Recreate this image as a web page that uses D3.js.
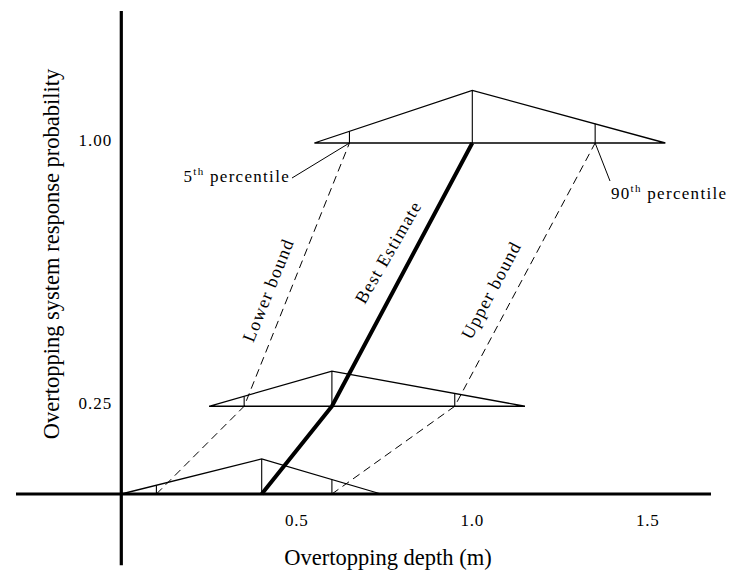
<!DOCTYPE html>
<html>
<head>
<meta charset="utf-8">
<script src="https://cdn.jsdelivr.net/npm/d3@7"></script>
<style>
  html, body { margin: 0; padding: 0; background: #fff; }
  svg { display: block; }
  text { font-family: "Liberation Serif", "Times New Roman", serif; fill: #000; }
</style>
</head>
<body>
<svg id="chart" width="736" height="573"></svg>
<script>
// Response probability levels at which a depth distribution is given
const levels = [0, 0.25, 1.0];
// Triangular distributions of overtopping depth (m) at each level
const depthMin = [0.00, 0.25, 0.55];
const depthMode = [0.40, 0.60, 1.00];
const depthMax = [0.74, 1.15, 1.55];
const depthP05 = [0.10, 0.35, 0.65];
const depthP90 = [0.60, 0.95, 1.35];
// Drawn peak height of each triangle, in probability units
const peakHeight = [0.10, 0.10, 0.15];

// Axis ticks and extents
const xTickValues = [0.5, 1.0, 1.5];
const xTickLabels = ["0.5", "1.0", "1.5"];
const yTickValues = [0.25, 1.0];
const yTickLabels = ["0.25", "1.00"];
const xAxisExtent = [-0.30, 1.68];
const yAxisExtent = [-0.203, 1.376];

const svg = d3.select("#chart");

const x = d3.scaleLinear().domain([0, 1.5]).range([121.3, 647.8]);
const y = d3.scaleLinear().domain([0, 1]).range([494, 143]);

const line = d3.line().x(d => x(d[0])).y(d => y(d[1]));

// Triangular distributions
levels.forEach((p, i) => {
  const g = svg.append("g");
  const tri = [[depthMin[i], p], [depthMode[i], p + peakHeight[i]], [depthMax[i], p], [depthMin[i], p]];
  g.append("path").attr("d", line(tri))
    .attr("fill", "none").attr("stroke", "#000").attr("stroke-width", 1.3)
    .attr("stroke-linejoin", "miter");
  // height of the triangle at a given depth
  const h = v => v <= depthMode[i]
    ? peakHeight[i] * (v - depthMin[i]) / (depthMode[i] - depthMin[i])
    : peakHeight[i] * (depthMax[i] - v) / (depthMax[i] - depthMode[i]);
  [depthP05[i], depthMode[i], depthP90[i]].forEach(v => {
    g.append("path").attr("d", line([[v, p], [v, p + h(v)]]))
      .attr("stroke", "#000").attr("stroke-width", 1.1);
  });
});

// Bound curves through the percentiles
const lowerBound = levels.map((p, i) => [depthP05[i], p]);
const upperBound = levels.map((p, i) => [depthP90[i], p]);
const bestEstimate = levels.map((p, i) => [depthMode[i], p]);

[lowerBound, upperBound].forEach(pts => {
  svg.append("path").attr("d", line(pts))
    .attr("fill", "none").attr("stroke", "#000").attr("stroke-width", 1)
    .attr("stroke-dasharray", "8,5");
});

svg.append("path").attr("d", line(bestEstimate))
  .attr("fill", "none").attr("stroke", "#000").attr("stroke-width", 4)
  .attr("stroke-linejoin", "round");

// Axes
svg.append("path").attr("d", line([[xAxisExtent[0], 0], [xAxisExtent[1], 0]]))
  .attr("stroke", "#000").attr("stroke-width", 3.2);
svg.append("path").attr("d", line([[0, yAxisExtent[0]], [0, yAxisExtent[1]]]))
  .attr("stroke", "#000").attr("stroke-width", 3.2);

// Tick labels
svg.append("g").selectAll("text").data(xTickValues).join("text")
  .attr("x", d => x(d)).attr("y", y(0) + 32)
  .attr("text-anchor", "middle").attr("font-size", 17)
  .attr("letter-spacing", 0.8)
  .text((d, i) => xTickLabels[i]);

svg.append("g").selectAll("text").data(yTickValues).join("text")
  .attr("x", x(0) - 9).attr("y", d => y(d) + 3)
  .attr("text-anchor", "end").attr("font-size", 17)
  .attr("letter-spacing", 1)
  .text((d, i) => yTickLabels[i]);

// Axis titles
svg.append("text")
  .attr("x", 388).attr("y", 565)
  .attr("text-anchor", "middle").attr("font-size", 22.5)
  .text("Overtopping depth (m)");

svg.append("text")
  .attr("transform", "translate(59,254) rotate(-90)")
  .attr("text-anchor", "middle").attr("font-size", 22.5)
  .text("Overtopping system response probability");

// Curve labels, set along their lines
const curveLabels = [
  { text: "Lower bound", cx: 268, cy: 290, angle: -68 },
  { text: "Best Estimate", cx: 388, cy: 252, angle: -60 },
  { text: "Upper bound", cx: 491, cy: 290, angle: -62 }
];
svg.append("g").selectAll("text").data(curveLabels).join("text")
  .attr("transform", d => `translate(${d.cx},${d.cy}) rotate(${d.angle})`)
  .attr("text-anchor", "middle").attr("dy", "0.35em")
  .attr("font-size", 18).attr("letter-spacing", 1.2)
  .text(d => d.text);

// Percentile call-outs
const p5 = svg.append("text").attr("x", 290).attr("y", 182)
  .attr("text-anchor", "end").attr("font-size", 17).attr("letter-spacing", 1.3);
p5.append("tspan").text("5");
p5.append("tspan").attr("font-size", 11).attr("dy", -7).text("th");
p5.append("tspan").attr("dy", 7).text(" percentile");
svg.append("path").attr("d", `M292,178L${x(depthP05[2])},${y(levels[2])}`)
  .attr("stroke", "#000").attr("stroke-width", 1);

const p90 = svg.append("text").attr("x", 611).attr("y", 199)
  .attr("text-anchor", "start").attr("font-size", 17).attr("letter-spacing", 1.3);
p90.append("tspan").text("90");
p90.append("tspan").attr("font-size", 11).attr("dy", -7).text("th");
p90.append("tspan").attr("dy", 7).text(" percentile");
svg.append("path").attr("d", `M${x(depthP90[2])},${y(levels[2])}L610,181`)
  .attr("stroke", "#000").attr("stroke-width", 1);
</script>
</body>
</html>
